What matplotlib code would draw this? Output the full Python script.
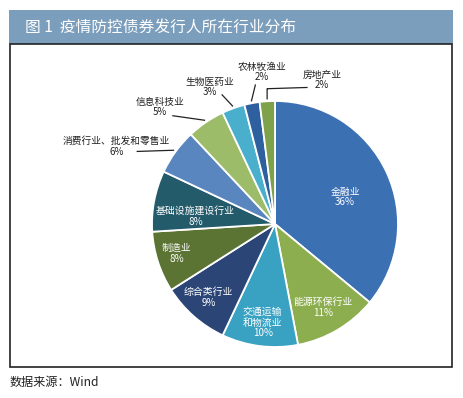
import matplotlib
matplotlib.use("Agg")
import matplotlib.pyplot as plt
from matplotlib.patches import Rectangle
import numpy as np

plt.rcParams["font.family"] = ["Noto Sans CJK SC", "DejaVu Sans"]

# data
industries = ["金融业", "能源环保行业", "交通运输\n和物流业", "综合类行业", "制造业",
              "基础设施建设行业", "消费行业、批发和零售业", "信息科技业", "生物医药业",
              "农林牧渔业", "房地产业"]
shares = [36, 11, 10, 9, 8, 8, 6, 5, 3, 2, 2]
colors = ["#3b70b3", "#8cae4f", "#39a2c2", "#2b4676", "#5b7434", "#245b6b",
          "#5a86bf", "#9cbc69", "#4aafcc", "#2e5f9e", "#7ea24b"]

# label layout (pie data coords, radius = 1)
inside_pos = {0: (0.57, 0.22), 1: (0.39, -0.68), 2: (-0.10, -0.80), 3: (-0.54, -0.60),
              4: (-0.80, -0.24), 5: (-0.645, 0.06)}
outside_pos = {6: (-1.29, 0.63), 7: (-0.935, 0.95), 8: (-0.53, 1.115),
               9: (-0.105, 1.235), 10: (0.38, 1.17)}
leader_start = {6: [(-1.12, 0.59)], 7: [(-0.83, 0.88)], 8: [(-0.43, 1.05)],
                9: [(-0.16, 1.13)], 10: [(0.26, 1.11), (-0.06, 1.10)]}

W, H = 464, 398
fig = plt.figure(figsize=(W / 100, H / 100), dpi=100)

# title band and frame
fig.patches.append(Rectangle((9 / W, 1 - 44 / H), 444 / W, 34 / H, transform=fig.transFigure,
                             facecolor="#7b9ebd", edgecolor="none", zorder=0))
fig.patches.append(Rectangle((10.5 / W, 1 - 367 / H), 441.5 / W, 323 / H, transform=fig.transFigure,
                             facecolor="none", edgecolor="#222222", linewidth=1.2, zorder=0))
fig.text(25 / W, 1 - 27 / H, "图 1  疫情防控债券发行人所在行业分布", color="white",
         fontsize=11.3, va="center", ha="left", fontweight="medium")
fig.text(10 / W, 1 - 382 / H, "数据来源：Wind", color="#222222", fontsize=8.7,
         va="center", ha="left")

cx, cy, r = 275, 224, 123
ax = fig.add_axes([(cx - r) / W, (H - cy - r) / H, 2 * r / W, 2 * r / H])
wedges, _ = ax.pie(shares, colors=colors, startangle=90, counterclock=False,
                   wedgeprops=dict(edgecolor="white", linewidth=1.3))
ax.set_xlim(-1, 1)
ax.set_ylim(-1, 1)
ax.axis("off")

for i, (name, pct) in enumerate(zip(industries, shares)):
    label = f"{name}\n{pct}%"
    if i in inside_pos:
        x, y = inside_pos[i]
        ax.text(x, y, label, color="white", fontsize=7.1, ha="center", va="center",
                linespacing=1.1)
    else:
        x, y = outside_pos[i]
        ax.text(x, y, label, color="#222222", fontsize=7, ha="center", va="center",
                linespacing=1.05, clip_on=False)
        w = wedges[i]
        mid = np.deg2rad((w.theta1 + w.theta2) / 2)
        end = (1.02 * np.cos(mid), 1.02 * np.sin(mid))
        pts = leader_start[i] + [end]
        if i == 10:
            pts = leader_start[i] + [(end[0], 1.10), end]
        xs, ys = zip(*pts)
        ax.plot(xs, ys, color="#222222", linewidth=0.9, clip_on=False)

fig.savefig("out.png", dpi=100)
